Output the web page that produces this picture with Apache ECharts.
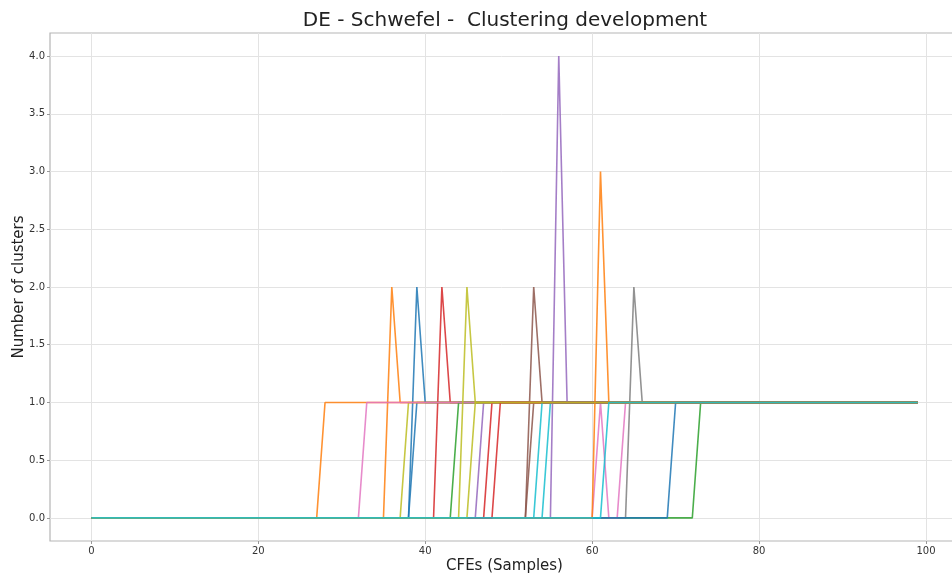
<!DOCTYPE html>
<html>
<head>
<meta charset="utf-8">
<script src="https://cdn.jsdelivr.net/npm/echarts@6/dist/echarts.min.js"></script>
<style>
  html, body { margin: 0; padding: 0; background: #fff; }
  #chart { width: 952px; height: 574px; }
</style>
</head>
<body>
<div id="chart"></div>
<script>
// Number of clusters per run, as [CFE sample, clusters] breakpoints.
const run00 = [[0, 0], [38, 0], [39, 1], [99, 1]];
const run01 = [[0, 0], [27, 0], [28, 1], [99, 1]];
const run02 = [[0, 0], [72, 0], [73, 1], [99, 1]];
const run03 = [[0, 0], [41, 0], [42, 2], [43, 1], [99, 1]];
const run04 = [[0, 0], [46, 0], [47, 1], [99, 1]];
const run05 = [[0, 0], [52, 0], [53, 2], [54, 1], [99, 1]];
const run06 = [[0, 0], [60, 0], [61, 1], [62, 0], [63, 0], [64, 1], [99, 1]];
const run07 = [[0, 0], [64, 0], [65, 2], [66, 1], [99, 1]];
const run08 = [[0, 0], [37, 0], [38, 1], [99, 1]];
const run09 = [[0, 0], [54, 0], [55, 1], [99, 1]];
const run10 = [[0, 0], [38, 0], [39, 2], [40, 1], [99, 1]];
const run11 = [[0, 0], [35, 0], [36, 2], [37, 1], [99, 1]];
const run12 = [[0, 0], [43, 0], [44, 1], [99, 1]];
const run13 = [[0, 0], [47, 0], [48, 1], [99, 1]];
const run14 = [[0, 0], [55, 0], [56, 4], [57, 1], [99, 1]];
const run15 = [[0, 0], [52, 0], [53, 1], [99, 1]];
const run16 = [[0, 0], [32, 0], [33, 1], [99, 1]];
const run18 = [[0, 0], [44, 0], [45, 2], [46, 1], [99, 1]];
const run19 = [[0, 0], [53, 0], [54, 1], [99, 1]];
const run20 = [[0, 0], [69, 0], [70, 1], [99, 1]];
const run21 = [[0, 0], [60, 0], [61, 3], [62, 1], [99, 1]];
const run23 = [[0, 0], [48, 0], [49, 1], [99, 1]];
const run28 = [[0, 0], [45, 0], [46, 1], [99, 1]];
const run29 = [[0, 0], [61, 0], [62, 1], [99, 1]];

// Run index (drives the colour cycle) and its data, in drawing order.
const runIds  = [0, 1, 2, 3, 4, 5, 6, 7, 8, 9, 10, 11, 12, 13, 14, 15, 16, 18, 19, 20, 21, 23, 28, 29];
const runData = [run00, run01, run02, run03, run04, run05, run06, run07, run08, run09,
                 run10, run11, run12, run13, run14, run15, run16, run18, run19, run20,
                 run21, run23, run28, run29];

const xTicks = [0, 20, 40, 60, 80, 100];
const yTicks = [0, 0.5, 1, 1.5, 2, 2.5, 3, 3.5, 4];

// tab10 colour cycle
const palette = ['#1f77b4', '#ff7f0e', '#2ca02c', '#d62728', '#9467bd',
                 '#8c564b', '#e377c2', '#7f7f7f', '#bcbd22', '#17becf'];

const FONT = 'DejaVu Sans';
const chart = echarts.init(document.getElementById('chart'), null, { renderer: 'canvas' });

const series = runData.map((d, i) => ({
  name: 'run ' + runIds[i],
  type: 'line',
  data: d,
  showSymbol: false,
  symbol: 'none',
  animation: false,
  silent: true,
  lineStyle: { width: 1.6, color: palette[runIds[i] % 10], opacity: 0.85 },
  z: 2 + i
}));

chart.setOption({
  animation: false,
  backgroundColor: '#ffffff',
  title: {
    text: 'DE - Schwefel -  Clustering development',
    left: 500,
    top: 6,
    textAlign: 'center',
    textStyle: { fontFamily: FONT, fontSize: 20, fontWeight: 'normal', color: '#222' }
  },
  grid: {
    left: 50, right: -7, top: 33, bottom: 33,
    outerBoundsMode: 'none',
    containLabel: false,
    show: true, borderColor: '#b5b5b5', borderWidth: 1.2, backgroundColor: 'transparent'
  },
  xAxis: {
    type: 'value',
    min: -4.95, max: 103.95,
    name: 'CFEs (Samples)',
    nameLocation: 'middle',
    nameGap: 18,
    nameMoveOverlap: false,
    nameTextStyle: { fontFamily: FONT, fontSize: 15, color: '#222' },
    axisLine: { show: false, onZero: false },
    axisTick: { show: true, customValues: xTicks, length: 3, lineStyle: { color: '#999' } },
    axisLabel: { customValues: xTicks, fontFamily: FONT, fontSize: 10, color: '#333', margin: 5 },
    splitLine: { show: true, lineStyle: { color: '#e3e3e3', width: 1 } }
  },
  yAxis: {
    type: 'value',
    min: -0.2, max: 4.2,
    name: 'Number of clusters',
    nameLocation: 'middle',
    nameGap: 23,
    nameMoveOverlap: false,
    nameTextStyle: { fontFamily: FONT, fontSize: 15, color: '#222' },
    axisLine: { show: false, onZero: false },
    axisTick: { show: true, customValues: yTicks, length: 3, lineStyle: { color: '#999' } },
    axisLabel: {
      customValues: yTicks, fontFamily: FONT, fontSize: 10, color: '#333', margin: 5,
      formatter: v => Number(v).toFixed(1)
    },
    splitLine: { show: true, lineStyle: { color: '#e3e3e3', width: 1 } }
  },
  series: series
});
</script>
</body>
</html>
